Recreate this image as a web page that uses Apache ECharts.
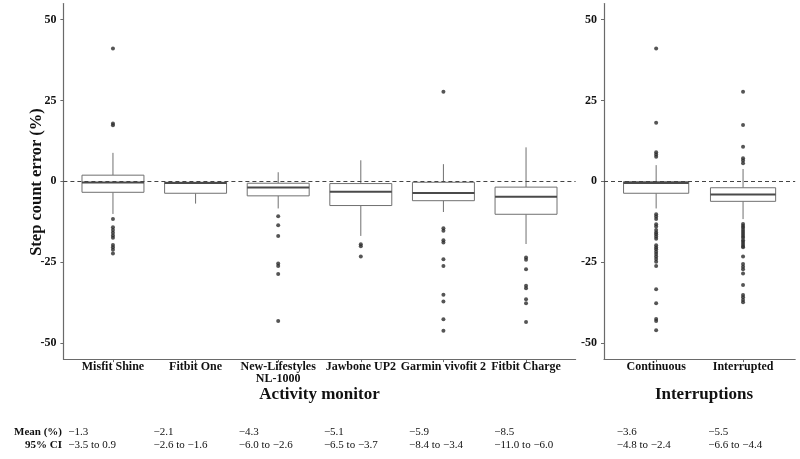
<!DOCTYPE html>
<html>
<head>
<meta charset="utf-8">
<script src="https://cdn.jsdelivr.net/npm/echarts@6/dist/echarts.min.js"></script>
<style>
  html, body { margin: 0; padding: 0; background: #fff; }
  #chart { width: 800px; height: 459px; }
</style>
</head>
<body>
<div id="chart"></div>
<script>
// ---------- DATA ----------
const monitorCategories = ['Misfit Shine', 'Fitbit One', 'New-Lifestyles\nNL-1000', 'Jawbone UP2', 'Garmin vivofit 2', 'Fitbit Charge'];
// [lower whisker, Q1, median, Q3, upper whisker]
const monitorStats = [
  [-10.1, -3.4, -0.4, 1.9, 8.8],
  [-6.9, -3.7, -0.5, -0.3, -0.3],
  [-8.4, -4.5, -1.9, -0.6, 2.8],
  [-16.9, -7.5, -3.2, -0.7, 6.5],
  [-9.5, -6.0, -3.6, -0.3, 5.3],
  [-19.4, -10.2, -4.8, -1.8, 10.5]
];
const monitorOutliers = [
  [41.1, 17.9, 17.3, -11.7, -14.2, -15.1, -15.9, -16.8, -17.5, -19.7, -20.4, -21.2, -22.3],
  [],
  [-10.8, -13.6, -16.9, -25.4, -26.2, -28.7, -43.2],
  [-19.5, -20.1, -23.3],
  [27.7, -14.5, -15.3, -18.2, -18.9, -24.1, -26.2, -35.1, -37.2, -42.7, -46.2],
  [-23.6, -24.3, -27.2, -32.3, -33.1, -36.5, -37.7, -43.5]
];
const interruptCategories = ['Continuous', 'Interrupted'];
const interruptStats = [
  [-8.4, -3.7, -0.5, -0.1, 5.0],
  [-11.7, -6.2, -4.1, -2.0, 3.8]
];
const interruptOutliers = [
  [41.1, 18.1, 9.0, 8.3, 7.6, -10.2, -10.9, -11.7, -13.3, -14.0, -15.1, -15.8, -16.4, -17.1, -17.8,
   -19.8, -20.5, -21.0, -21.8, -22.5, -23.3, -24.0, -24.9, -26.2, -33.4, -37.7, -42.6, -43.2, -46.1],
  [27.7, 17.4, 10.7, 7.1, 6.4, 5.6, -13.2, -13.8, -14.4, -15.1, -15.7, -16.3, -16.9, -17.5, -18.2,
   -18.8, -19.4, -20.0, -20.4, -23.3, -25.6, -26.4, -27.2, -28.5, -32.1, -35.2, -35.9, -36.7, -37.4]
];
const yTicks = [-50, -25, 0, 25, 50];
const yTitle = 'Step count error (%)';
const monitorMeans = [-1.3, -2.1, -4.3, -5.1, -5.9, -8.5];
const monitorCI = [[-3.5, 0.9], [-2.6, -1.6], [-6.0, -2.6], [-6.5, -3.7], [-8.4, -3.4], [-11.0, -6.0]];
const interruptMeans = [-3.6, -5.5];
const interruptCI = [[-4.8, -2.4], [-6.6, -4.4]];

// ---------- STYLE ----------
const FONT = '"Liberation Serif", "Times New Roman", serif';
const AXIS_COLOR = '#6a6a6a';
const BOX_COLOR = '#707070';
const MEDIAN_COLOR = '#4a4a4a';
const POINT_COLOR = '#2a2a2a';
const BOX_FRAC = 0.75;

function fmt(v) {
  const s = Math.abs(v).toFixed(1);
  return (v < 0 ? '\u2212' : '') + s;
}

function renderBox(params, api) {
  const x = api.value(0);
  const pLo = api.coord([x, api.value(1)]);
  const pQ1 = api.coord([x, api.value(2)]);
  const pMed = api.coord([x, api.value(3)]);
  const pQ3 = api.coord([x, api.value(4)]);
  const pHi = api.coord([x, api.value(5)]);
  const halfW = api.size([BOX_FRAC, 0])[0] / 2;
  const cx = pMed[0];
  const ls = { stroke: BOX_COLOR, lineWidth: 1 };
  return {
    type: 'group',
    children: [
      { type: 'line', shape: { x1: cx, y1: pHi[1], x2: cx, y2: pQ3[1] }, style: ls },
      { type: 'line', shape: { x1: cx, y1: pQ1[1], x2: cx, y2: pLo[1] }, style: ls },
      { type: 'rect', shape: { x: cx - halfW, y: pQ3[1], width: 2 * halfW, height: pQ1[1] - pQ3[1] },
        style: { fill: '#ffffff', stroke: BOX_COLOR, lineWidth: 1 } },
      { type: 'line', shape: { x1: cx - halfW, y1: pMed[1], x2: cx + halfW, y2: pMed[1] },
        style: { stroke: MEDIAN_COLOR, lineWidth: 2 } }
    ]
  };
}

function boxData(stats) {
  return stats.map((s, i) => [i + 1].concat(s));
}
function outlierData(outs) {
  const d = [];
  outs.forEach((arr, i) => arr.forEach(v => d.push([i + 1, v])));
  return d;
}
function catValues(cats) { return cats.map((c, i) => i + 1); }

function xAxisFor(gridIndex, cats) {
  return {
    type: 'value', gridIndex: gridIndex,
    min: 0.4, max: cats.length + 0.6,
    splitLine: { show: false },
    axisLine: { show: true, onZero: false, lineStyle: { color: AXIS_COLOR, width: 1.2 } },
    axisTick: { show: true, customValues: catValues(cats), length: 3, lineStyle: { color: AXIS_COLOR } },
    axisLabel: {
      customValues: catValues(cats),
      formatter: v => cats[Math.round(v) - 1] || '',
      margin: 2, color: '#111', fontFamily: FONT, fontWeight: 'bold', fontSize: 12, lineHeight: 12
    }
  };
}
function yAxisFor(gridIndex) {
  return {
    type: 'value', gridIndex: gridIndex,
    min: -55, max: 55,
    splitLine: { show: false },
    axisLine: { show: true, onZero: false, lineStyle: { color: AXIS_COLOR, width: 1.2 } },
    axisTick: { show: true, customValues: yTicks, length: 3, lineStyle: { color: AXIS_COLOR } },
    axisLabel: { customValues: yTicks, margin: 7, color: '#111', fontFamily: FONT, fontWeight: 'bold', fontSize: 12 }
  };
}

const zeroLine = {
  silent: true, symbol: 'none', label: { show: false },
  lineStyle: { type: [4, 3], color: '#444', width: 1 },
  data: [{ yAxis: 0 }]
};

// ---------- TEXT ----------
const graphics = [];
const rowMeanY = 432, rowCIY = 445;
const tStyle = { fontFamily: FONT, fontSize: 11, fill: '#111' };
graphics.push({ type: 'text', x: 37, y: 182, rotation: Math.PI / 2,
  style: { text: yTitle, fontFamily: FONT, fontWeight: 'bold', fontSize: 16.5, fill: '#111', textAlign: 'center', textVerticalAlign: 'middle' } });
graphics.push({ type: 'text', x: 62, y: rowMeanY, style: Object.assign({}, tStyle, { text: 'Mean (%)', fontWeight: 'bold', textAlign: 'right', textVerticalAlign: 'middle' }) });
graphics.push({ type: 'text', x: 62, y: rowCIY, style: Object.assign({}, tStyle, { text: '95% CI', fontWeight: 'bold', textAlign: 'right', textVerticalAlign: 'middle' }) });
monitorMeans.forEach((m, i) => {
  const x = 68.3 + i * 85.2;
  graphics.push({ type: 'text', x: x, y: rowMeanY, style: Object.assign({}, tStyle, { text: fmt(m), textAlign: 'left', textVerticalAlign: 'middle' }) });
  graphics.push({ type: 'text', x: x, y: rowCIY, style: Object.assign({}, tStyle, { text: fmt(monitorCI[i][0]) + ' to ' + fmt(monitorCI[i][1]), textAlign: 'left', textVerticalAlign: 'middle' }) });
});
interruptMeans.forEach((m, i) => {
  const x = 616.7 + i * 91.6;
  graphics.push({ type: 'text', x: x, y: rowMeanY, style: Object.assign({}, tStyle, { text: fmt(m), textAlign: 'left', textVerticalAlign: 'middle' }) });
  graphics.push({ type: 'text', x: x, y: rowCIY, style: Object.assign({}, tStyle, { text: fmt(interruptCI[i][0]) + ' to ' + fmt(interruptCI[i][1]), textAlign: 'left', textVerticalAlign: 'middle' }) });
});
graphics.push({ type: 'text', x: 319.5, y: 394.5, style: { text: 'Activity monitor', fontFamily: FONT, fontWeight: 'bold', fontSize: 17, fill: '#111', textAlign: 'center', textVerticalAlign: 'middle' } });
graphics.push({ type: 'text', x: 704, y: 394.5, style: { text: 'Interruptions', fontFamily: FONT, fontWeight: 'bold', fontSize: 17, fill: '#111', textAlign: 'center', textVerticalAlign: 'middle' } });

// ---------- CHART ----------
const chart = echarts.init(document.getElementById('chart'), null, { renderer: 'canvas' });
chart.setOption({
  animation: false,
  backgroundColor: '#ffffff',
  grid: [
    { left: 63.4, top: 3.5, width: 512.2, height: 355.6 },
    { left: 604, top: 3.5, width: 191.2, height: 355.6 }
  ],
  xAxis: [xAxisFor(0, monitorCategories), xAxisFor(1, interruptCategories)],
  yAxis: [yAxisFor(0), yAxisFor(1)],
  series: [
    { type: 'custom', xAxisIndex: 0, yAxisIndex: 0, renderItem: renderBox, data: boxData(monitorStats),
      encode: { x: 0, y: [1, 2, 3, 4, 5] }, z: 2 },
    { type: 'scatter', xAxisIndex: 0, yAxisIndex: 0, data: outlierData(monitorOutliers),
      symbolSize: 4, itemStyle: { color: POINT_COLOR }, z: 3, markLine: zeroLine },
    { type: 'custom', xAxisIndex: 1, yAxisIndex: 1, renderItem: renderBox, data: boxData(interruptStats),
      encode: { x: 0, y: [1, 2, 3, 4, 5] }, z: 2 },
    { type: 'scatter', xAxisIndex: 1, yAxisIndex: 1, data: outlierData(interruptOutliers),
      symbolSize: 4, itemStyle: { color: POINT_COLOR }, z: 3, markLine: zeroLine }
  ],
  graphic: graphics
});
</script>
</body>
</html>
